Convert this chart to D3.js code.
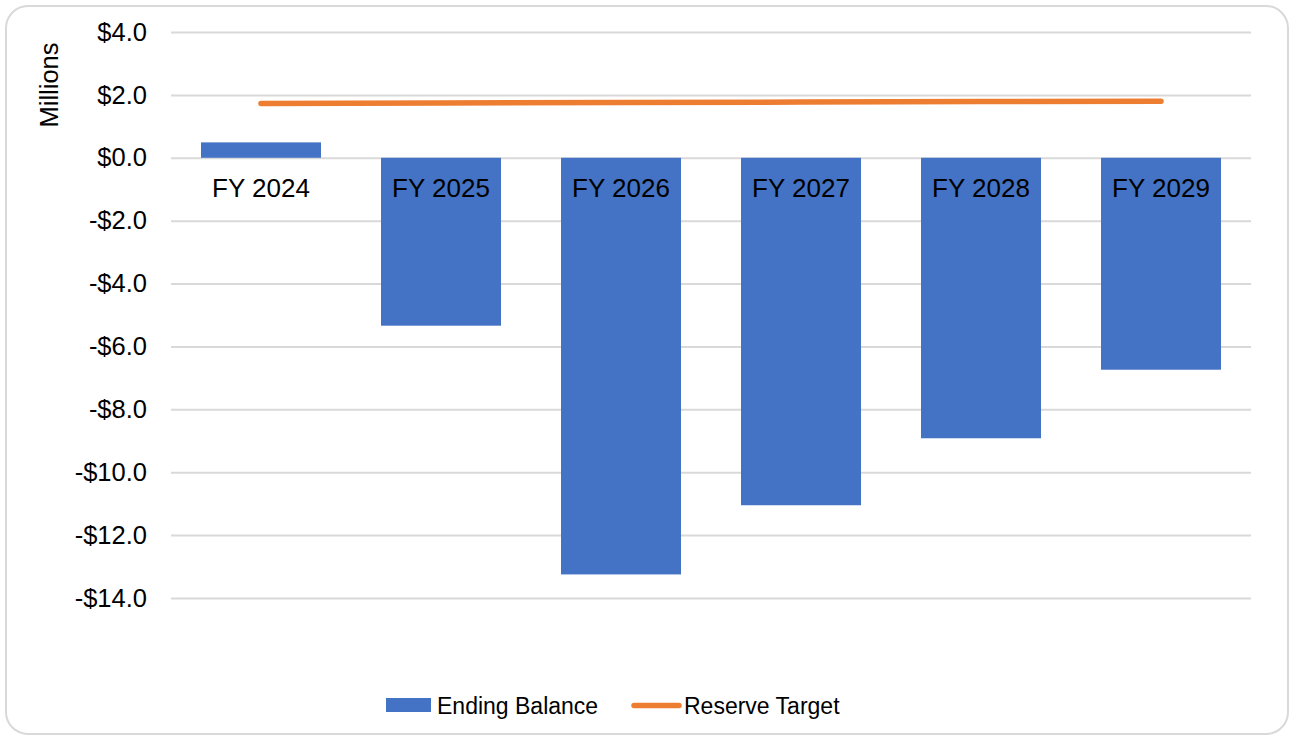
<!DOCTYPE html>
<html>
<head>
<meta charset="utf-8">
<script src="https://cdn.jsdelivr.net/npm/d3@7"></script>
<style>
  html, body { margin: 0; padding: 0; background: #fff; }
  svg { display: block; font-family: "Liberation Sans", Arial, sans-serif; }
</style>
</head>
<body>
<svg id="chart" width="1291" height="740"></svg>
<script>
const categories = ["FY 2024", "FY 2025", "FY 2026", "FY 2027", "FY 2028", "FY 2029"];
const endingBalance = [0.49, -5.34, -13.25, -11.05, -8.92, -6.74];
const reserveTarget = [1.73, 1.74, 1.76, 1.77, 1.79, 1.80];
const yTicks = [4, 2, 0, -2, -4, -6, -8, -10, -12, -14];
const seriesNames = ["Ending Balance", "Reserve Target"];

const svg = d3.select("#chart");
const W = 1291, H = 740;

// outer rounded frame
svg.append("rect")
  .attr("x", 6).attr("y", 6).attr("width", 1282).attr("height", 728)
  .attr("rx", 22).attr("ry", 22)
  .attr("fill", "#fff").attr("stroke", "#d9d9d9").attr("stroke-width", 2);

const plot = { left: 171, right: 1251, top: 32, bottom: 598 };

const x = d3.scaleBand().domain(categories)
  .range([plot.left, plot.right]).paddingInner(1/3).paddingOuter(1/6);
const y = d3.scaleLinear().domain([-14, 4]).range([plot.bottom, plot.top]);

// gridlines + tick labels via axis
const yAxis = d3.axisLeft(y).tickValues(yTicks)
  .tickSize(-(plot.right - plot.left)).tickPadding(24)
  .tickFormat(d => (d < 0 ? "-$" : "$") + Math.abs(d).toFixed(1));

const gy = svg.append("g").attr("transform", `translate(${plot.left},0)`).call(yAxis);
gy.select(".domain").remove();
gy.selectAll(".tick line").attr("stroke", "#d9d9d9").attr("stroke-width", 2);
gy.selectAll(".tick text")
  .attr("fill", "#000").attr("font-size", 25.5)
  .attr("font-family", "'Liberation Sans', Arial, sans-serif");

// axis title
svg.append("text")
  .attr("transform", "translate(58,85) rotate(-90)")
  .attr("text-anchor", "middle")
  .attr("font-size", 25.5).attr("fill", "#000")
  .text("Millions");

// bars
svg.append("g").selectAll("rect")
  .data(categories.map((c, i) => ({ c, v: endingBalance[i] })))
  .join("rect")
  .attr("x", d => x(d.c))
  .attr("width", x.bandwidth())
  .attr("y", d => y(Math.max(0, d.v)))
  .attr("height", d => Math.abs(y(d.v) - y(0)))
  .attr("fill", "#4472C4");

// category labels (just below zero line)
svg.append("g").selectAll("text")
  .data(categories)
  .join("text")
  .attr("x", d => x(d) + x.bandwidth() / 2)
  .attr("y", y(0) + 39.5)
  .attr("text-anchor", "middle")
  .attr("font-size", 26).attr("fill", "#000")
  .text(d => d);

// reserve target line
const line = d3.line()
  .x((d, i) => x(categories[i]) + x.bandwidth() / 2)
  .y(d => y(d));
svg.append("path")
  .datum(reserveTarget)
  .attr("d", line)
  .attr("fill", "none")
  .attr("stroke", "#ED7D31")
  .attr("stroke-width", 5.5)
  .attr("stroke-linecap", "round")
  .attr("stroke-linejoin", "round");

// legend
const lg = svg.append("g");
lg.append("rect").attr("x", 386).attr("y", 698).attr("width", 45).attr("height", 14).attr("fill", "#4472C4");
lg.append("text").attr("x", 437).attr("y", 714).attr("font-size", 23).attr("fill", "#000").text(seriesNames[0]);
lg.append("line").attr("x1", 634).attr("x2", 679).attr("y1", 705.5).attr("y2", 705.5)
  .attr("stroke", "#ED7D31").attr("stroke-width", 5.5).attr("stroke-linecap", "round");
lg.append("text").attr("x", 684).attr("y", 714).attr("font-size", 23).attr("fill", "#000").text(seriesNames[1]);
</script>
</body>
</html>
